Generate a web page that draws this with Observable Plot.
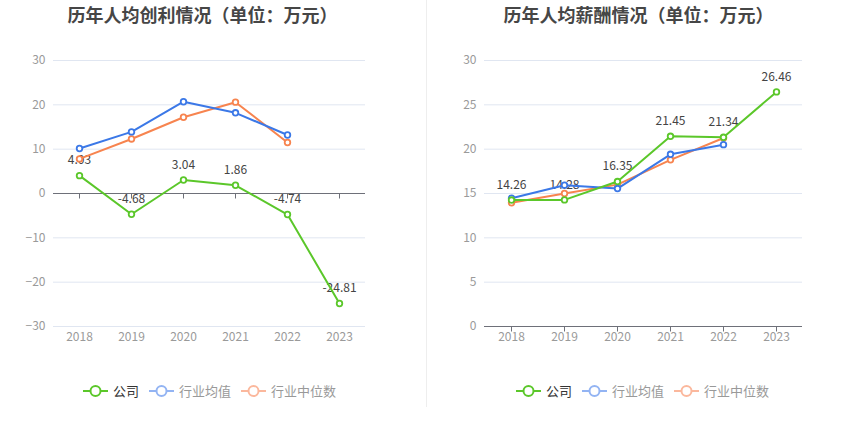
<!DOCTYPE html>
<html><head><meta charset="utf-8">
<script src="https://cdn.jsdelivr.net/npm/d3@7"></script>
<script src="https://cdn.jsdelivr.net/npm/@observablehq/plot@0.6"></script>
<style>
body{margin:0;background:#fff;font-family:"Noto Sans CJK SC","Noto Sans",sans-serif;}
#wrap{position:relative;width:850px;height:436px;overflow:hidden;}
.title{position:absolute;top:1px;font-size:18px;font-weight:bold;color:#464646;text-align:center;width:425px;}
.chart{position:absolute;top:40px;}
.legend{position:absolute;top:381px;width:425px;display:flex;justify-content:center;font-size:13px;}
.item{display:flex;align-items:center;margin:0 5px;}
.item svg{margin-right:5px;}
.divider{position:absolute;left:426px;top:0;width:1px;height:407px;background:#eeeeee;}
</style></head>
<body><div id="wrap">
<div class="title" style="left:-10px">历年人均创利情况（单位：万元）</div>
<div class="title" style="left:426px">历年人均薪酬情况（单位：万元）</div>
<div class="divider"></div>
<div id="c1" class="chart" style="left:0"></div>
<div id="c2" class="chart" style="left:425px"></div>
<div id="l1" class="legend" style="left:-3px"></div>
<div id="l2" class="legend" style="left:430px"></div>
</div>
<script>
const years = ["2018","2019","2020","2021","2022","2023"];
const seriesNames = ["公司","行业均值","行业中位数"];
const colors = ["#5bc72a","#3b78e7","#f7844f"];
const legendColors = ["#5bc72a","#93b4f3","#fbb89d"];
const legendText = ["#333333","#999999","#999999"];

// 人均创利
const profitCompany = [4.03, -4.68, 3.04, 1.86, -4.74, -24.81];
const profitMean = [10.15, 13.9, 20.7, 18.2, 13.2, null];
const profitMedian = [7.8, 12.3, 17.2, 20.6, 11.5, null];
const profitTicks = [-30,-20,-10,0,10,20,30];

// 人均薪酬
const salaryCompany = [14.26, 14.28, 16.35, 21.45, 21.34, 26.46];
const salaryMean = [14.47, 15.94, 15.56, 19.42, 20.51, null];
const salaryMedian = [13.95, 15.0, 16.0, 18.8, 21.26, null];
const salaryTicks = [0,5,10,15,20,25,30];

const tickSymbol = {draw(ctx){ctx.moveTo(0,0);ctx.lineTo(0,5);}};

function rows(arr){return years.map((y,i)=>({year:y,v:arr[i]})).filter(d=>d.v!=null);}

function makeChart(company, mean, median, ticks, marginLeft, marginRight){
  const sets = [rows(median), rows(mean), rows(company)];
  const cols = [colors[2], colors[1], colors[0]];
  const marks = [
    Plot.ruleY(ticks.filter(t=>t!==0), {stroke:"#e0e6f1", strokeWidth:1}),
    Plot.ruleY([0], {stroke:"#6e7079", strokeWidth:1}),
    Plot.dot(years, {x:d=>d, y:0, symbol:tickSymbol, stroke:"#6e7079", strokeWidth:1, r:3}),
    Plot.axisY({ticks, tickSize:0, tickPadding:8, fontSize:12, fill:"#9a9a9a", label:null}),
    Plot.axisX({tickSize:0, tickPadding:6, fontSize:12, fill:"#9a9a9a", label:null}),
    Plot.text(rows(company), {x:"year", y:"v", text:d=>d.v.toFixed(2), dy:-15, fontSize:12, fill:"#444"})
  ];
  sets.forEach((s,i)=>{
    marks.push(Plot.line(s, {x:"year", y:"v", stroke:cols[i], strokeWidth:2}));
    marks.push(Plot.dot(s, {x:"year", y:"v", r:2.8, stroke:cols[i], strokeWidth:1.8, fill:"#fff"}));
  });
  return Plot.plot({
    width:425, height:320,
    marginTop:20, marginBottom:34, marginLeft, marginRight,
    style:{fontFamily:"'Noto Sans CJK SC','Noto Sans',sans-serif", background:"transparent"},
    x:{type:"point", domain:years, padding:0.5},
    y:{domain:[ticks[0], ticks[ticks.length-1]]},
    marks
  });
}

document.getElementById("c1").append(makeChart(profitCompany, profitMean, profitMedian, profitTicks, 53, 60));
document.getElementById("c2").append(makeChart(salaryCompany, salaryMean, salaryMedian, salaryTicks, 59, 48));

function legend(id){
  const el = document.getElementById(id);
  seriesNames.forEach((n,i)=>{
    const it = document.createElement("div"); it.className="item";
    it.innerHTML = `<svg width="25" height="14"><line x1="0" y1="7" x2="25" y2="7" stroke="${legendColors[i]}" stroke-width="2"/><circle cx="12.5" cy="7" r="5" fill="#fff" stroke="${legendColors[i]}" stroke-width="2"/></svg><span style="color:${legendText[i]}">${n}</span>`;
    el.append(it);
  });
}
legend("l1"); legend("l2");
</script>
</body></html>
